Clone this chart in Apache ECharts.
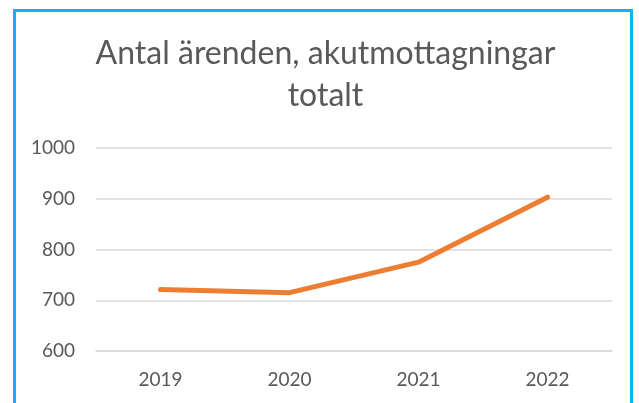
<!DOCTYPE html>
<html>
<head>
<meta charset="utf-8">
<script src="https://cdn.jsdelivr.net/npm/echarts@6/dist/echarts.min.js"></script>
<style>
  html, body { margin: 0; padding: 0; background: #fff; }
  #wrap { position: relative; width: 639px; height: 403px; overflow: hidden; }
  #frame { position: absolute; left: 13px; top: 9px; width: 620px; height: 420px;
           border: 3px solid #0bb5f2; border-bottom: none; box-sizing: border-box; }
  /* chart shifted 6px so the centred title sits in the middle of the frame */
  #chart { position: absolute; left: 6px; top: 0; width: 639px; height: 403px; }
</style>
</head>
<body>
<div id="wrap">
  <div id="frame"></div>
  <div id="chart"></div>
</div>
<script>
// antal ärenden per år
var years = ['2019', '2020', '2021', '2022'];
var cases = [721, 715, 775, 903];
var yTicks = [600, 700, 800, 900, 1000];

(function(){
	var chart = echarts.init(document.getElementById('chart'));
	var grey = '#595959';

	var option = {
		animation: false,
		title: {
			text: 'Antal ärenden, akutmottagningar\ntotalt',
			left: 'center',
			top: 28,
			textStyle: {
				fontFamily: 'Lato',
				fontWeight: 'normal',
				fontSize: 32,
				lineHeight: 42,
				color: grey
			}
		},
		grid: { left: 90, right: 33, top: 148, bottom: 52 },
		xAxis: {
			type: 'category',
			data: years,
			boundaryGap: true,
			axisLine: { lineStyle: { color: '#d9d9d9', width: 1.5 } },
			axisTick: { show: false },
			axisLabel: { color: grey, fontFamily: 'Lato', fontSize: 19, margin: 19 }
		},
		yAxis: {
			type: 'value',
			min: yTicks[0],
			max: yTicks[yTicks.length - 1],
			interval: 100,
			axisLine: { show: false },
			axisTick: { show: false },
			axisLabel: {
				color: grey, fontFamily: 'Lato', fontSize: 19, margin: 21,
				formatter: function (v) { return String(v); }
			},
			splitLine: { lineStyle: { color: '#d9d9d9', width: 1.5 } }
		},
		series: [{
			type: 'line',
			data: cases,
			symbol: 'none',
			lineStyle: { color: '#ed7d31', width: 5, cap: 'round', join: 'round' }
		}]
	};
	chart.setOption(option);
})();
</script>
</body>
</html>
